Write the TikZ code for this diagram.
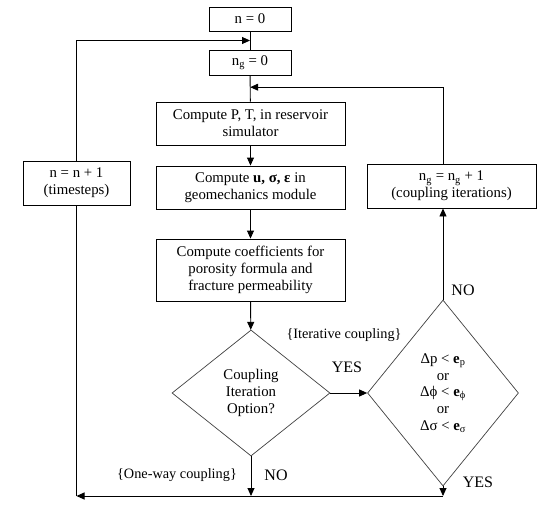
\documentclass[tikz,border=0pt]{standalone}
\usepackage{fontspec}
\setmainfont{Liberation Serif}
\usepackage{tikz}
\usetikzlibrary{shapes.geometric, arrows.meta, positioning, calc}

\begin{document}
\begin{tikzpicture}[
    x=1pt, y=-1pt,
    font=\fontsize{14.8}{16.7}\selectfont,
    box/.style={rectangle, draw, line width=0.9pt, align=center, inner sep=2pt},
    choice/.style={diamond, draw=black!75, line width=0.7pt, align=center, inner sep=0pt},
    arrow/.style={-{Triangle[length=8pt,width=7pt]}, line width=0.9pt},
    line/.style={line width=0.9pt},
    tag/.style={font=\fontsize{14.3}{16}\selectfont},
    answer/.style={font=\fontsize{16}{18}\selectfont}
]
    \useasboundingbox (0,0) rectangle (554,514);

    % Counters
    \node[box, minimum width=82pt, minimum height=24pt] (n0) at (250, 19) {n = 0};
    \node[box, minimum width=82pt, minimum height=25pt] (ng0) at (250, 62.5) {n\textsubscript{g} = 0};

    % Reservoir simulator
    \node[box, minimum width=189pt, minimum height=43pt] (reservoir) at (250.5, 123.5) {Compute P, T, in reservoir\\simulator};

    % Geomechanics
    \node[box, minimum width=189pt, minimum height=43pt] (geomech) at (250.5, 187.5) {Compute \textbf{u, σ, ε} in\\geomechanics module};

    % Coefficients
    \node[box, minimum width=189pt, minimum height=62pt] (coeffs) at (250.5, 270) {Compute coefficients for\\porosity formula and\\fracture permeability};

    % Decisions
    \node[choice, minimum width=158pt, minimum height=126pt] (option) at (251, 393) {Coupling\\Iteration\\Option?};
    \node[choice, minimum width=151pt, minimum height=186pt] (converge) at (443, 393) {Δp < \textbf{e}\textsubscript{p}\\or\\Δϕ < \textbf{e}\textsubscript{ϕ}\\or\\Δσ < \textbf{e}\textsubscript{σ}};

    % Increments
    \node[box, minimum width=107pt, minimum height=44pt] (timestep) at (76.5, 183) {n = n + 1\\(timesteps)};
    \node[box, minimum width=169pt, minimum height=44pt] (coupiter) at (451.5, 186) {n\textsubscript{g} = n\textsubscript{g} + 1\\(coupling iterations)};

    % Labels
    \node[tag] (iterlabel) at (344, 335) {\{Iterative coupling\}};
    \node[answer] (yes1) at (347, 367) {YES};
    \node[answer] (no1) at (463, 290) {NO};
    \node[answer] (yes2) at (478, 482) {YES};
    \node[tag] (onewaylabel) at (177, 475) {\{One-way coupling\}};
    \node[answer] (no2) at (276, 475) {NO};

    \coordinate (bottom) at (443, 496);

    % Arrows
    \draw[line] (n0) -- (ng0);
    \draw[arrow] (timestep.north) |- ($(n0.south)!0.5!(ng0.north)$);
    \draw[line] (ng0) -- (reservoir);
    \draw[arrow] (reservoir) -- (geomech);
    \draw[arrow] (geomech) -- (coeffs);
    \draw[arrow] (coeffs) -- (option);
    \draw[arrow] (option) -- (converge);
    \draw[arrow] (converge.north) -- (converge.north |- coupiter.south);
    \draw[arrow] (converge.north |- coupiter.north) |- ($(ng0.south)!0.45!(reservoir.north)$);
    \draw[arrow] (option.south) -- (option.south |- bottom);
    \draw[arrow] (converge.south) -- (bottom);
    \draw[arrow] (bottom) -- (timestep.south |- bottom);
    \draw[line] (timestep.south |- bottom) -- (timestep.south);

\end{tikzpicture}
\end{document}
